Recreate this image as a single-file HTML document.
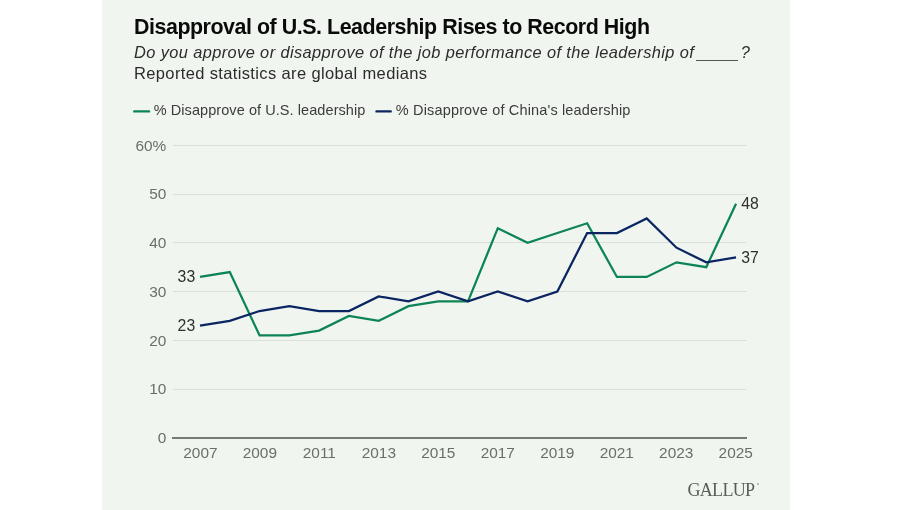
<!DOCTYPE html>
<html><head><meta charset="utf-8">
<style>
html,body{margin:0;padding:0;background:#fff;}
body{width:900px;height:510px;position:relative;overflow:hidden;font-family:"Liberation Sans",sans-serif;}
#panel{position:absolute;left:102px;top:0;width:688px;height:510px;background:#f0f6ef;}
.t{position:absolute;white-space:nowrap;line-height:1;}
#title{left:134px;top:16.6px;font-size:21.4px;font-weight:bold;color:#0a0a0a;letter-spacing:-0.45px;}
#sub1{left:134px;top:43.5px;font-size:16.4px;font-style:italic;color:#2c2c2c;letter-spacing:0.39px;}
.blank{display:inline-block;width:41.5px;height:1px;margin:0 3px 0 2px;border-bottom:1.3px solid #555;vertical-align:-3.5px;}
#sub2{left:134px;top:64.7px;font-size:16.5px;color:#2c2c2c;letter-spacing:0.36px;}
.leg{position:absolute;top:102.7px;font-size:14.5px;letter-spacing:0.07px;line-height:1;color:#3c3c3c;white-space:nowrap;}
.yl{position:absolute;left:120px;width:46.3px;text-align:right;font-size:15.4px;line-height:18px;color:#6a6e6a;}
.xl{position:absolute;top:443.6px;width:50px;text-align:center;font-size:15.4px;line-height:18px;color:#6a6e6a;}
.dl{position:absolute;font-size:15.8px;line-height:18px;color:#2e302e;}
#gallup{position:absolute;left:687.5px;top:481px;font-family:"Liberation Serif",serif;font-size:18px;line-height:1;color:#5a5d5a;letter-spacing:-0.7px;}
#reg{position:absolute;left:756.5px;top:483px;width:2px;height:2px;border-radius:1px;background:#aaa;}
svg{position:absolute;left:0;top:0;}
#root{position:absolute;left:0;top:0;width:900px;height:510px;will-change:transform;}
</style></head><body>
<div id="panel"></div><div id="root">
<div class="t" id="title">Disapproval of U.S. Leadership Rises to Record High</div>
<div class="t" id="sub1">Do you approve or disapprove of the job performance of the leadership of<span class="blank"></span>?</div>
<div class="t" id="sub2">Reported statistics are global medians</div>
<svg width="900" height="510" viewBox="0 0 900 510">
<line x1="134.3" x2="149" y1="111.4" y2="111.4" stroke="#0c8456" stroke-width="2.4" stroke-linecap="round"/>
<line x1="376.5" x2="390.7" y1="111.4" y2="111.4" stroke="#0b2462" stroke-width="2.4" stroke-linecap="round"/>
<line x1="173" x2="746.5" y1="145.5" y2="145.5" stroke="#d9dfd9" stroke-width="1"/><line x1="173" x2="746.5" y1="194.5" y2="194.5" stroke="#d9dfd9" stroke-width="1"/><line x1="173" x2="746.5" y1="242.5" y2="242.5" stroke="#d9dfd9" stroke-width="1"/><line x1="173" x2="746.5" y1="291.5" y2="291.5" stroke="#d9dfd9" stroke-width="1"/><line x1="173" x2="746.5" y1="340.5" y2="340.5" stroke="#d9dfd9" stroke-width="1"/><line x1="173" x2="746.5" y1="389.5" y2="389.5" stroke="#d9dfd9" stroke-width="1"/>
<line x1="172" x2="747" y1="438" y2="438" stroke="#747a74" stroke-width="2"/>
<polyline points="200.00,276.93 229.78,272.05 259.56,335.43 289.34,335.43 319.12,330.55 348.90,315.93 378.68,320.80 408.46,306.18 438.24,301.30 468.02,301.30 497.80,228.18 527.58,242.80 557.36,233.05 587.14,223.30 616.92,276.93 646.70,276.93 676.48,262.30 706.26,267.18 736.04,203.80" fill="none" stroke="#0c8456" stroke-width="2.25" stroke-linejoin="miter"/>
<polyline points="200.00,325.68 229.78,320.80 259.56,311.05 289.34,306.18 319.12,311.05 348.90,311.05 378.68,296.43 408.46,301.30 438.24,291.55 468.02,301.30 497.80,291.55 527.58,301.30 557.36,291.55 587.14,233.05 616.92,233.05 646.70,218.43 676.48,247.68 706.26,262.30 736.04,257.43" fill="none" stroke="#0b2462" stroke-width="2.25" stroke-linejoin="miter"/>
</svg>
<div class="leg" id="leg1" style="left:153.7px">% Disapprove of U.S. leadership</div>
<div class="leg" id="leg2" style="left:395.8px;letter-spacing:0.16px">% Disapprove of China's leadership</div>
<div class="yl" style="top:429.0px">0</div><div class="yl" style="top:380.2px">10</div><div class="yl" style="top:331.5px">20</div><div class="yl" style="top:282.8px">30</div><div class="yl" style="top:234.0px">40</div><div class="yl" style="top:185.2px">50</div><div class="yl" style="top:136.5px">60%</div>
<div class="xl" style="left:175.40px">2007</div><div class="xl" style="left:234.88px">2009</div><div class="xl" style="left:294.36px">2011</div><div class="xl" style="left:353.84px">2013</div><div class="xl" style="left:413.32px">2015</div><div class="xl" style="left:472.80px">2017</div><div class="xl" style="left:532.28px">2019</div><div class="xl" style="left:591.76px">2021</div><div class="xl" style="left:651.24px">2023</div><div class="xl" style="left:710.72px">2025</div>
<div class="dl" style="left:177.6px;top:268.0px">33</div>
<div class="dl" style="left:177.6px;top:316.8px">23</div>
<div class="dl" style="left:741.2px;top:194.9px">48</div>
<div class="dl" style="left:741.2px;top:248.5px">37</div>
<div id="gallup">GALLUP</div><div id="reg"></div></div>
</body></html>
